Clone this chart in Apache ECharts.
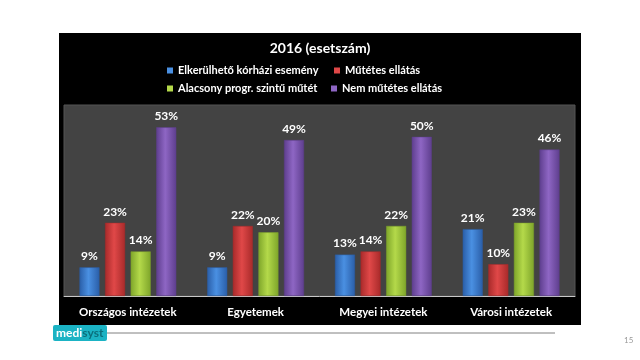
<!DOCTYPE html>
<html><head><meta charset="utf-8">
<script src="https://cdn.jsdelivr.net/npm/echarts@6/dist/echarts.min.js"></script>
<style>html,body{margin:0;padding:0;background:#fff}#c{width:640px;height:360px}</style>
</head><body><div id="c"></div>
<script>
const categories = ['Országos intézetek', 'Egyetemek', 'Megyei intézetek', 'Városi intézetek'];
const seriesNames = ['Elkerülhető kórházi esemény', 'Műtétes ellátás', 'Alacsony progr. szintű műtét', 'Nem műtétes ellátás'];
const elkerulheto = [9, 9, 13, 21];
const mutetes = [23, 22, 14, 10];
const alacsony = [14, 20, 22, 23];
const nemMutetes = [53, 49, 50, 46];
const titleText = '2016 (esetszám)';

const FONT = 'Lato, "Liberation Sans", sans-serif';
const colors = [
  ['#2a5ea8', '#4a90e2'],
  ['#a82a2a', '#e04848'],
  ['#7ea52a', '#b4d94a'],
  ['#5e3e8e', '#8e66c4']
];
function grad(c) {
  return new echarts.graphic.LinearGradient(0, 0, 1, 0, [
    {offset: 0, color: c[0]}, {offset: 0.45, color: c[1]}, {offset: 1, color: c[0]}
  ]);
}
const values = [elkerulheto, mutetes, alacsony, nemMutetes];
const chart = echarts.init(document.getElementById('c'), null, {renderer: 'canvas'});
const legendPos = [[167, 65], [334, 65], [167, 83], [331, 83]];
chart.setOption({
  backgroundColor: '#ffffff',
  animation: false,
  title: {
    text: titleText, left: 'center', top: 41, padding: 0,
    textStyle: {color: '#fff', fontSize: 14, fontWeight: 'bold', fontFamily: FONT}
  },
  legend: seriesNames.map((n, i) => ({
    data: [{name: n, itemStyle: {color: colors[i][1], borderWidth: 0}}],
    left: legendPos[i][0], top: legendPos[i][1], padding: 0,
    itemWidth: 6, itemHeight: 6, itemGap: 4, icon: 'rect',
    textStyle: {color: '#fff', fontSize: 11, fontWeight: 'bold', fontFamily: FONT},
    selectedMode: false
  })),
  graphic: [
    {type: 'rect', z: -10, shape: {x: 59, y: 33, width: 522, height: 292}, style: {fill: '#000'}},
    {type: 'rect', z: 10, shape: {x: 53, y: 325, width: 54, height: 16, r: 2}, style: {fill: '#1bb3c4'}},
    {type: 'text', z: 11, style: {x: 56, y: 333, text: '{a|medi}{b|syst}', verticalAlign: 'middle',
      rich: {a: {fill: '#fff', fontSize: 12, fontWeight: 'bold', fontFamily: FONT}, b: {fill: '#0b6f7c', fontSize: 12, fontWeight: 'bold', fontFamily: FONT}}}},
    {type: 'line', z: 10, shape: {x1: 107, y1: 333, x2: 555, y2: 333}, style: {stroke: '#808080', lineWidth: 1}},
    {type: 'text', z: 11, style: {x: 624, y: 340, text: '15', fill: '#999', font: '8px ' + FONT, verticalAlign: 'middle'}}
  ],
  grid: {left: 64, right: 65, top: 105, bottom: 64, show: true, backgroundColor: '#434343', borderColor: '#555', borderWidth: 1},
  xAxis: {
    type: 'category', data: categories,
    axisLine: {lineStyle: {color: '#c8c8c8', width: 1}},
    axisTick: {show: false},
    axisLabel: {interval: 0, color: '#fff', fontSize: 11.5, fontWeight: 'bold', fontFamily: FONT, margin: 10}
  },
  yAxis: {type: 'value', min: 0, max: 60, show: false, splitLine: {show: false}},
  series: values.map((v, i) => ({
    name: seriesNames[i], type: 'bar', data: v,
    barWidth: 20, barGap: '28%',
    color: colors[i][1],
    itemStyle: {color: grad(colors[i]), borderColor: colors[i][0], borderWidth: 0.5},
    label: {show: true, position: 'top', distance: 5, formatter: '{c}%', color: '#fff', fontSize: 12, fontWeight: 'bold', fontFamily: FONT}
  }))
});
</script></body></html>
